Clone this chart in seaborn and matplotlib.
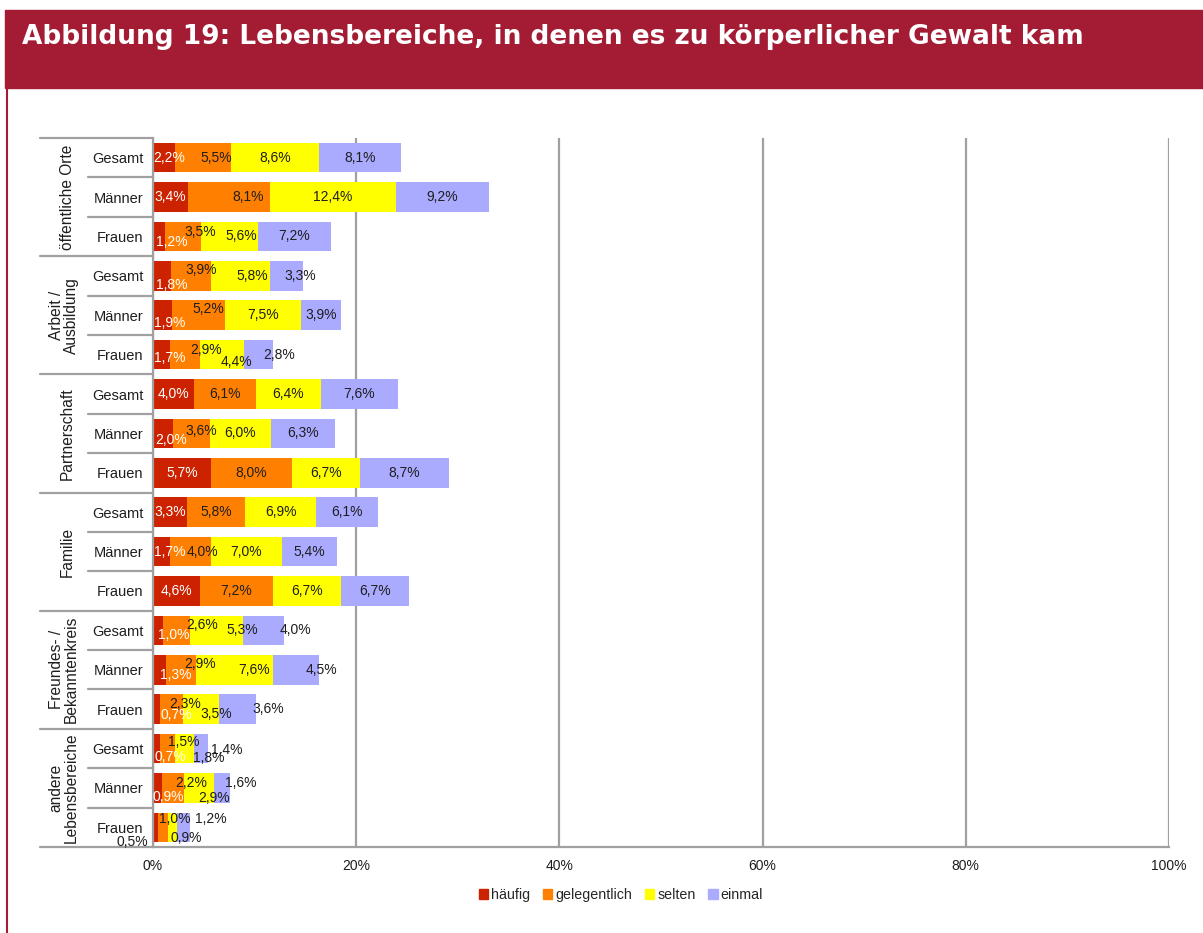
import numpy as np
import pandas as pd
import matplotlib.pyplot as plt
import matplotlib.transforms as mtransforms
from matplotlib.patches import Rectangle
from matplotlib.lines import Line2D
import seaborn as sns

# --- data ---
groups = ['öffentliche Orte', 'Arbeit /\nAusbildung', 'Partnerschaft', 'Familie',
          'Freundes- /\nBekanntenkreis', 'andere\nLebensbereiche']
subgroups = ['Gesamt', 'Männer', 'Frauen']
series = ['häufig', 'gelegentlich', 'selten', 'einmal']

haeufig      = [2.2, 3.4, 1.2, 1.8, 1.9, 1.7, 4.0, 2.0, 5.7, 3.3, 1.7, 4.6, 1.0, 1.3, 0.7, 0.7, 0.9, 0.5]
gelegentlich = [5.5, 8.1, 3.5, 3.9, 5.2, 2.9, 6.1, 3.6, 8.0, 5.8, 4.0, 7.2, 2.6, 2.9, 2.3, 1.5, 2.2, 1.0]
selten       = [8.6, 12.4, 5.6, 5.8, 7.5, 4.4, 6.4, 6.0, 6.7, 6.9, 7.0, 6.7, 5.3, 7.6, 3.5, 1.8, 2.9, 0.9]
einmal       = [8.1, 9.2, 7.2, 3.3, 3.9, 2.8, 7.6, 6.3, 8.7, 6.1, 5.4, 6.7, 4.0, 4.5, 3.6, 1.4, 1.6, 1.2]

x_ticks = [0, 20, 40, 60, 80, 100]
x_ticklabels = ['0%', '20%', '40%', '60%', '80%', '100%']

# --- styles ---
colors = {'häufig': '#CC2200', 'gelegentlich': '#FF8000', 'selten': '#FFFF00', 'einmal': '#AAAAFF'}
header_red = '#A31C33'
grid_grey = '#A0A0A0'
text_dark = '#1E1E1E'

# label nudges in pixels (dx, dy; dy > 0 = up), where the original moved labels
nudges = {
    (0, 0): (5, 0), (0, 1): (13, 0),
    (1, 1): (19, 0),
    (2, 0): (13, -6), (2, 1): (17, 4), (2, 2): (12, 0),
    (3, 0): (10, -9), (3, 1): (10, 6), (3, 2): (12, 0), (3, 3): (14, 0),
    (4, 0): (7, -8), (4, 1): (10, 6),
    (5, 0): (8, -3), (5, 1): (21, 5), (5, 2): (14, -7), (5, 3): (20, 0),
    (7, 0): (8, -7), (7, 1): (10, 2),
    (10, 0): (8, 0), (10, 1): (12, 0),
    (12, 0): (16, -5), (12, 1): (26, 5), (12, 2): (26, 0), (12, 3): (32, 0),
    (13, 0): (16, -5), (13, 1): (19, 6), (13, 2): (20, 0), (13, 3): (26, 0),
    (14, 0): (20, -6), (14, 1): (13, 5), (14, 2): (15, -5), (14, 3): (31, 0),
    (15, 0): (14, -8), (15, 1): (16, 7), (15, 2): (24, -9), (15, 3): (26, -1),
    (16, 0): (11, -9), (16, 1): (18, 5), (16, 2): (15, -10), (16, 3): (19, 5),
    (17, 0): (-23, -15), (17, 1): (12, 8), (17, 2): (13, -11), (17, 3): (27, 8),
}

W, H = 1203, 933

rows = [f'{g}|{s}' for g in groups for s in subgroups]
df = pd.DataFrame({'row': rows, 'häufig': haeufig, 'gelegentlich': gelegentlich,
                   'selten': selten, 'einmal': einmal})
cum = df[series].cumsum(axis=1)

sns.set_style('white')
plt.rcParams['font.family'] = ['Liberation Sans', 'DejaVu Sans']

fig = plt.figure(figsize=(W / 100, H / 100), dpi=100)
ax = fig.add_axes([153 / W, 1 - 847 / H, (1169 - 153) / W, (847 - 138) / H])

# stacked bars: draw the cumulative totals, longest first
for name in reversed(series):
    sns.barplot(x=cum[name], y=df['row'], orient='h', color=colors[name],
                saturation=1, width=0.75, errorbar=None, edgecolor='none', ax=ax)

ax.set_xlim(0, 100)
ax.set_ylim(len(rows) - 0.5, -0.5)
ax.set_xlabel('')
ax.set_ylabel('')

# value labels
for i in range(len(rows)):
    left = 0
    for j, name in enumerate(series):
        v = df.loc[i, name]
        dx, dy = nudges.get((i, j), (0, 0))
        col = 'white' if (j == 0 and (i, j) != (17, 0)) else text_dark
        ax.annotate(f'{v:.1f}%'.replace('.', ','), (left + v / 2, i),
                    xytext=(dx * 0.72, dy * 0.72), textcoords='offset points',
                    ha='center', va='center', fontsize=10, color=col, zorder=5)
        left += v

# axes styling
ax.set_xticks(x_ticks)
ax.set_xticklabels(x_ticklabels)
ax.grid(axis='x', color=grid_grey, lw=1.6)
ax.grid(axis='y', visible=False)
ax.set_axisbelow(True)
for s in ['top', 'right']:
    ax.spines[s].set_visible(False)
for s in ['left', 'bottom']:
    ax.spines[s].set_color(grid_grey)
    ax.spines[s].set_linewidth(1.6)
ax.tick_params(axis='x', direction='out', length=4, width=1.6, color=grid_grey,
               labelsize=10, labelcolor=text_dark, pad=5)
ax.set_yticks(range(len(rows)))
ax.set_yticklabels(subgroups * len(groups))
ax.tick_params(axis='y', length=0, labelsize=10.5, labelcolor=text_dark, pad=7)

# category separator lines and group names
trans = mtransforms.blended_transform_factory(ax.transAxes, ax.transData)
for k in range(len(groups) + 1):
    ax.plot([-0.111, 0], [3 * k - 0.5] * 2, transform=trans, clip_on=False,
            color=grid_grey, lw=1.6)
for k in range(len(groups)):
    for r in (0.5, 1.5):
        ax.plot([-0.064, 0], [3 * k + r] * 2, transform=trans, clip_on=False,
                color=grid_grey, lw=1.6)
    gx = -0.088 if '\n' in groups[k] else -0.084
    ax.text(gx, 3 * k + 1, groups[k], rotation=90, ha='center', va='center',
            transform=trans, fontsize=11.2, linespacing=1.0, color=text_dark)

# legend
handles = [Rectangle((0, 0), 1, 1, color=colors[n]) for n in series]
fig.legend(handles, series, loc='center', bbox_to_anchor=(621 / W, 1 - 895 / H),
           ncol=4, frameon=False, fontsize=10.3, handlelength=0.65, handleheight=0.65,
           handletextpad=0.2, columnspacing=0.9)

# header bar and frame
fig.patches.append(Rectangle((5 / W, 1 - 88 / H), 1, 78 / H, transform=fig.transFigure,
                             color=header_red, zorder=0))
fig.add_artist(Line2D([7 / W, 7 / W], [0, 1 - 88 / H], color=header_red, lw=1.5))
fig.text(22 / W, 1 - 44 / H, 'Abbildung 19: Lebensbereiche, in denen es zu körperlicher Gewalt kam',
         color='white', fontsize=19, fontweight='bold', family='DejaVu Sans', va='baseline')

fig.savefig('out.png', dpi=100, facecolor='white')
